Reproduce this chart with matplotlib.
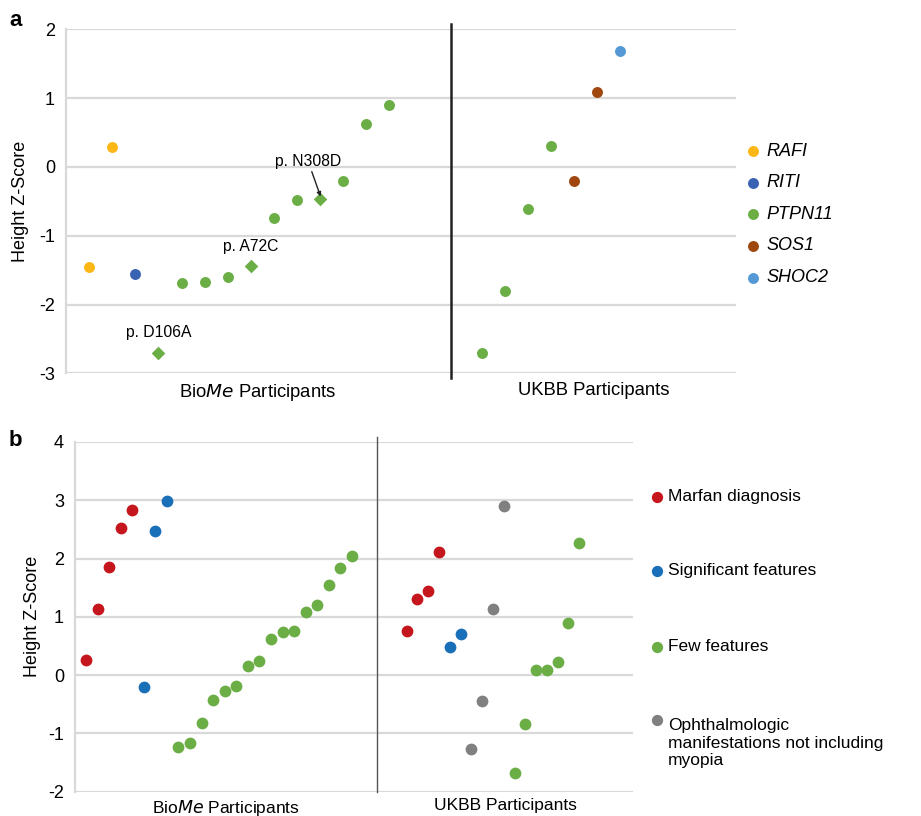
import matplotlib
matplotlib.use("Agg")
import matplotlib.pyplot as plt
import numpy as np

plt.rcParams['font.family'] = ['Liberation Sans', 'DejaVu Sans']

# ---------------- Panel a data ----------------
genes_a = ["RAFI", "RITI", "PTPN11", "SOS1", "SHOC2"]
gene_colors = {"RAFI": "#FBB715", "RITI": "#3A62B3", "PTPN11": "#6BAE46",
               "SOS1": "#A0470F", "SHOC2": "#5499D6"}

biome_a_gene = ["RAFI", "RAFI", "RITI", "PTPN11", "PTPN11", "PTPN11", "PTPN11",
                "PTPN11", "PTPN11", "PTPN11", "PTPN11", "PTPN11", "PTPN11", "PTPN11"]
biome_a_z = [-1.45, 0.29, -1.56, -2.70, -1.69, -1.68, -1.60, -1.44,
             -0.74, -0.48, -0.46, -0.20, 0.62, 0.90]
biome_a_diamond = [False, False, False, True, False, False, False, True,
                   False, False, True, False, False, False]
ukbb_a_gene = ["PTPN11", "PTPN11", "PTPN11", "PTPN11", "SOS1", "SOS1", "SHOC2"]
ukbb_a_z = [-2.71, -1.81, -0.61, 0.30, -0.21, 1.09, 1.69]
variant_labels = ["p. D106A", "p. A72C", "p. N308D"]

# ---------------- Panel b data ----------------
cats_b = ["Marfan diagnosis", "Significant features", "Few features",
          "Ophthalmologic\nmanifestations not including\nmyopia"]
cat_colors = ["#C4161C", "#1A6FB9", "#6BAE46", "#808080"]
biome_b_z = [0.26, 1.14, 1.86, 2.53, 2.84, -0.21, 2.47, 2.98,
             -1.23, -1.16, -0.82, -0.42, -0.28, -0.19, 0.16, 0.24,
             0.62, 0.74, 0.76, 1.08, 1.21, 1.54, 1.84, 2.05]
biome_b_cat = [0] * 5 + [1] * 3 + [2] * 16
ukbb_b_cat = [0] * 4 + [1] * 2 + [3] * 4 + [2] * 7
ukbb_b_z = [0.75, 1.31, 1.44, 2.11, 0.49, 0.71, -1.27, -0.45, 1.14, 2.91,
            -1.68, -0.84, 0.08, 0.08, 0.22, 0.90, 2.26]

W, H = 921, 816
fig = plt.figure(figsize=(W / 100, H / 100), dpi=100)

def fx(px):
    return px / W

def fy(py):
    return 1 - py / H

grid_col = "#D9D9D9"
FS = 13

# ================= Panel a =================
axa = fig.add_axes([fx(66), fy(373.3), fx(736) - fx(66), fy(29.3) - fy(373.3)])
axa.set_xlim(0, 29)
axa.set_ylim(-3, 2)
axa.set_yticks(np.arange(-3, 3, 1))
axa.set_yticklabels([str(v) for v in range(-3, 3)], fontsize=FS)
axa.yaxis.grid(True, color=grid_col, lw=1.6)
axa.set_axisbelow(True)
axa.tick_params(axis='y', length=0, pad=8)
axa.set_xticks([])
for s in ["top", "right", "bottom"]:
    axa.spines[s].set_visible(False)
axa.spines["left"].set_color(grid_col)
axa.spines["left"].set_linewidth(1.6)

xa_left = np.arange(1, len(biome_a_z) + 1)
for x, z, g, d in zip(xa_left, biome_a_z, biome_a_gene, biome_a_diamond):
    axa.scatter(x, z, s=62 if not d else 48, marker='D' if d else 'o',
                color=gene_colors[g], zorder=3, linewidths=0)
xa_right = np.arange(18, 18 + len(ukbb_a_z))
for x, z, g in zip(xa_right, ukbb_a_z, ukbb_a_gene):
    axa.scatter(x, z, s=62, color=gene_colors[g], zorder=3, linewidths=0)

axa.plot([16.67, 16.67], [-3.07, 2.07], color="#222222", lw=1.8, clip_on=False, zorder=2)

# variant annotations
dia_idx = [i for i, d in enumerate(biome_a_diamond) if d]
axa.text(xa_left[dia_idx[0]], biome_a_z[dia_idx[0]] + 0.29, variant_labels[0],
         ha='center', va='center', fontsize=11.3)
axa.text(xa_left[dia_idx[1]], biome_a_z[dia_idx[1]] + 0.29, variant_labels[1],
         ha='center', va='center', fontsize=11.3)
axa.annotate(variant_labels[2], xy=(xa_left[dia_idx[2]] + 0.02, biome_a_z[dia_idx[2]] + 0.03),
             xytext=(xa_left[dia_idx[2]] - 0.52, biome_a_z[dia_idx[2]] + 0.54),
             ha='center', va='center', fontsize=11.3,
             arrowprops=dict(arrowstyle='-|>', color='#222222', lw=1.0,
                             mutation_scale=6, shrinkA=0, shrinkB=0))

axa.text(8.31, -3.12, "Bio$\\it{Me}$ Participants", ha='center', va='top', fontsize=13.3)
axa.text(22.86, -3.12, "UKBB Participants", ha='center', va='top', fontsize=13.3)
axa.set_ylabel("Height Z-Score", fontsize=13, labelpad=7)

# legend a
leg_y = [151, 182.7, 214.3, 246, 277.7]
for g, py in zip(genes_a, leg_y):
    axa.scatter([fx(753)], [fy(py)], s=62, color=gene_colors[g], linewidths=0,
                transform=fig.transFigure, clip_on=False)
    fig.text(fx(766), fy(py), g, fontsize=FS, style='italic', ha='left', va='center')

fig.text(fx(9), fy(20), "a", fontsize=16, fontweight='bold', ha='left', va='center')

# ================= Panel b =================
axb = fig.add_axes([fx(75), fy(791.7), fx(633.3) - fx(75), fy(442) - fy(791.7)])
axb.set_xlim(0.05, 48.33)
axb.set_ylim(-2, 4)
axb.set_yticks(np.arange(-2, 5, 1))
axb.set_yticklabels([str(v) for v in range(-2, 5)], fontsize=FS)
axb.yaxis.grid(True, color=grid_col, lw=1.6)
axb.set_axisbelow(True)
axb.tick_params(axis='y', length=0, pad=8)
axb.set_xticks([])
for s in ["top", "right", "bottom"]:
    axb.spines[s].set_visible(False)
axb.spines["left"].set_color(grid_col)
axb.spines["left"].set_linewidth(1.6)

xb_left = np.arange(1, len(biome_b_z) + 1)
for x, z, c in zip(xb_left, biome_b_z, biome_b_cat):
    axb.scatter(x, z, s=72, color=cat_colors[c], zorder=3, linewidths=0)
xb_right = 28.73 + 0.933 * np.arange(len(ukbb_b_z))
for x, z, c in zip(xb_right, ukbb_b_z, ukbb_b_cat):
    axb.scatter(x, z, s=72, color=cat_colors[c], zorder=3, linewidths=0)

axb.plot([26.14, 26.14], [-2, 4.08], color="#555555", lw=1.0, clip_on=False, zorder=2)

axb.text(13.09, -2.1, "Bio$\\it{Me}$ Participants", ha='center', va='top', fontsize=FS - 0.5)
axb.text(37.23, -2.1, "UKBB Participants", ha='center', va='top', fontsize=FS - 0.5)
axb.set_ylabel("Height Z-Score", fontsize=13, labelpad=5)

leg_b_y = [496.7, 570.7, 646.7, 743.3]
mark_b_y = [496.7, 570.7, 646.7, 720]
for lab, col, py, my in zip(cats_b, cat_colors, leg_b_y, mark_b_y):
    axb.scatter([fx(657)], [fy(my)], s=66, color=col, linewidths=0,
                transform=fig.transFigure, clip_on=False)
    fig.text(fx(668), fy(py), lab, fontsize=FS - 0.5, ha='left', va='center',
             linespacing=1.2)

fig.text(fx(9), fy(440), "b", fontsize=16, fontweight='bold', ha='left', va='center')

fig.savefig("out.png", dpi=100)
